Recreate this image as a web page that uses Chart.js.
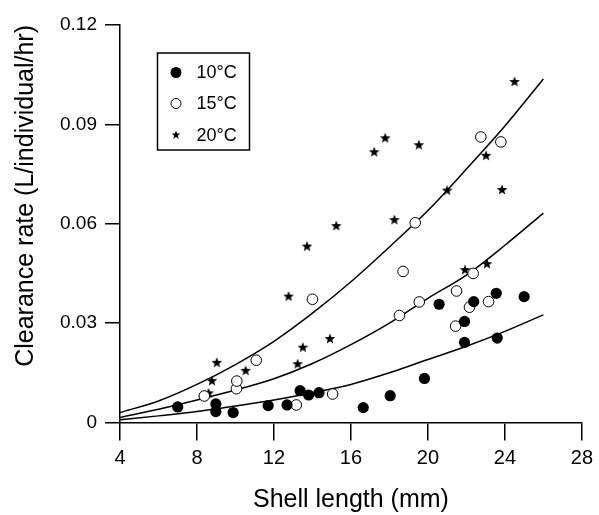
<!DOCTYPE html>
<html>
<head>
<meta charset="utf-8">
<script src="https://cdn.jsdelivr.net/npm/chart.js@4/dist/chart.umd.min.js"></script>
<style>
html,body{margin:0;padding:0;background:#fff;}
#wrap{width:599px;height:515px;}
</style>
</head>
<body>
<div id="wrap"><canvas id="c" width="599" height="515"></canvas></div>
<script>
// ---- data ----
const seriesLabels = ['10\u00B0C', '15\u00B0C', '20\u00B0C'];

const length10 = [7.0, 8.98, 8.98, 9.88, 11.7, 12.68, 13.36, 13.8, 14.34, 16.64, 18.04, 19.82, 20.58, 21.9, 21.9, 22.38, 23.55, 23.6, 25.0];
const rate10   = [0.0047, 0.0056, 0.0033, 0.0030, 0.0051, 0.0053, 0.0096, 0.0083, 0.0090, 0.0045, 0.0081, 0.0133, 0.0357, 0.0305, 0.0242, 0.0365, 0.0390, 0.0255, 0.0380];

const length15 = [8.38, 10.05, 10.07, 11.08, 13.16, 14.0, 15.05, 18.52, 18.71, 19.34, 19.55, 21.44, 21.49, 22.16, 22.35, 22.75, 23.15, 23.79];
const rate15   = [0.0080, 0.0102, 0.0125, 0.0188, 0.0053, 0.0372, 0.0086, 0.0323, 0.0456, 0.0603, 0.0364, 0.0291, 0.0397, 0.0348, 0.0450, 0.0862, 0.0365, 0.0847];

const length20 = [8.6, 8.78, 9.03, 10.53, 12.76, 13.23, 13.5, 13.72, 14.91, 15.24, 17.21, 17.78, 18.26, 19.53, 21.0, 21.93, 23.02, 23.07, 23.85, 24.5];
const rate20   = [0.0088, 0.0125, 0.0180, 0.0156, 0.0380, 0.0176, 0.0226, 0.0531, 0.0252, 0.0593, 0.0816, 0.0858, 0.0611, 0.0837, 0.0700, 0.0460, 0.0805, 0.0478, 0.0702, 0.1028];

// fitted curves
const curveLength = [4, 6, 8, 10, 12, 14, 16, 18, 20, 22, 24, 26];
const curve10 = [0.0008, 0.0020, 0.0033, 0.0050, 0.0068, 0.0090, 0.0115, 0.0150, 0.0190, 0.0230, 0.0275, 0.0325];
const curve15 = [0.0015, 0.0040, 0.0068, 0.0098, 0.0132, 0.0178, 0.0235, 0.0300, 0.0375, 0.0445, 0.0535, 0.0632];
const curve20 = [0.0030, 0.0065, 0.0115, 0.0175, 0.0245, 0.0330, 0.0425, 0.0530, 0.0640, 0.0765, 0.0895, 0.1037];

const xTicks = [4, 8, 12, 16, 20, 24, 28];
const yTicks = [0, 0.03, 0.06, 0.09, 0.12];
const yTickLabels = ['0', '0.03', '0.06', '0.09', '0.12'];

// ---- helpers ----
function pts(xs, ys) { return xs.map((x, i) => ({x: x, y: ys[i]})); }
function makeStar(outer) {
  const inner = outer * 0.42;
  const s = Math.ceil(outer * 2 + 2);
  const cv = document.createElement('canvas');
  cv.width = s; cv.height = s;
  const g = cv.getContext('2d');
  g.fillStyle = '#000';
  g.beginPath();
  for (let i = 0; i < 10; i++) {
    const r = i % 2 === 0 ? outer : inner;
    const a = -Math.PI / 2 + i * Math.PI / 5;
    const px = s / 2 + r * Math.cos(a), py = s / 2 + r * Math.sin(a);
    if (i === 0) g.moveTo(px, py); else g.lineTo(px, py);
  }
  g.closePath();
  g.fill();
  return cv;
}
const starBig = makeStar(5.6);
const starSmall = makeStar(4.6);

const FONT = "'Liberation Sans', Arial, Helvetica, sans-serif";

const legendBox = {
  id: 'legendBox',
  afterDatasetsDraw(chart) {
    const ctx = chart.ctx, a = chart.chartArea;
    const bx = a.left + 37.5, by = a.top + 28, bw = 92, bh = 97;
    ctx.save();
    ctx.fillStyle = '#fff';
    ctx.fillRect(bx, by, bw, bh);
    ctx.strokeStyle = '#000';
    ctx.lineWidth = 1.5;
    ctx.strokeRect(bx, by, bw, bh);
    const mx = bx + 18.5, tx = bx + 39;
    const ys = [by + 19.5, by + 50.5, by + 82];
    ctx.font = '18px ' + FONT;
    ctx.textBaseline = 'middle';
    ctx.textAlign = 'left';
    ctx.fillStyle = '#000';
    ctx.beginPath(); ctx.arc(mx, ys[0], 5.5, 0, Math.PI * 2); ctx.fill();
    ctx.beginPath(); ctx.arc(mx, ys[1], 5, 0, Math.PI * 2); ctx.lineWidth = 1; ctx.stroke();
    ctx.drawImage(starSmall, mx - starSmall.width / 2, ys[2] - starSmall.height / 2);
    for (let i = 0; i < 3; i++) ctx.fillText(seriesLabels[i], tx, ys[i] + 1);
    ctx.restore();
  }
};

const lineDs = (data) => ({
  type: 'line', data: pts(curveLength, data), borderColor: '#000', borderWidth: 1.5,
  pointRadius: 0, fill: false, cubicInterpolationMode: 'monotone', order: 2
});

new Chart(document.getElementById('c'), {
  type: 'scatter',
  data: {
    datasets: [
      {label: seriesLabels[0], data: pts(length10, rate10), pointStyle: 'circle', pointRadius: 5.6,
       backgroundColor: '#000', borderColor: '#000', borderWidth: 0, order: 1},
      {label: seriesLabels[1], data: pts(length15, rate15), pointStyle: 'circle', pointRadius: 5.3,
       backgroundColor: '#fff', borderColor: '#000', borderWidth: 1, order: 1},
      {label: seriesLabels[2], data: pts(length20, rate20), pointStyle: starBig, pointRadius: 5.6,
       backgroundColor: '#000', borderColor: '#000', order: 1},
      lineDs(curve10), lineDs(curve15), lineDs(curve20)
    ]
  },
  options: {
    responsive: false,
    animation: false,
    events: [],
    layout: {padding: {top: 25, right: 13.5, left: 0, bottom: 0}},
    plugins: {legend: {display: false}, tooltip: {enabled: false}},
    scales: {
      x: {
        type: 'linear', min: 4, max: 28,
        afterFit(s) { s.height = 92.5; },
        afterBuildTicks(s) { s.ticks = xTicks.map(v => ({value: v})); },
        grid: {drawOnChartArea: false, drawTicks: true, tickLength: 18, color: '#000', lineWidth: 1.5},
        border: {display: true, color: '#000', width: 1.5},
        ticks: {color: '#000', font: {family: FONT, size: 20}, padding: 6, maxRotation: 0},
        title: {display: true, text: 'Shell length (mm)', color: '#000', font: {family: FONT, size: 25}, padding: {top: 0, bottom: 0}}
      },
      y: {
        type: 'linear', min: 0, max: 0.12,
        afterFit(s) { s.width = 120; },
        afterBuildTicks(s) { s.ticks = yTicks.map(v => ({value: v})); },
        grid: {drawOnChartArea: false, drawTicks: true, tickLength: 15, color: '#000', lineWidth: 1.5},
        border: {display: true, color: '#000', width: 1.5},
        ticks: {color: '#000', font: {family: FONT, size: 19}, padding: 8,
                callback: (v) => { const i = yTicks.indexOf(v); return i >= 0 ? yTickLabels[i] : ''; }},
        title: {display: true, text: 'Clearance rate (L/individual/hr)', color: '#000', align: 'end', font: {family: FONT, size: 25}, padding: {top: 11, bottom: 0}}
      }
    }
  },
  plugins: [legendBox]
});
</script>
</body>
</html>
